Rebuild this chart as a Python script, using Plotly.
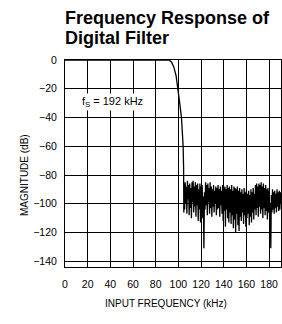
import plotly.graph_objects as go

# Passband + transition (kHz, dB)
pass_freq = [0, 20, 40, 60, 80, 90, 92, 94, 96, 98, 99.7, 101, 102.7, 104.2, 104.6, 104.8]
pass_mag = [0, 0, 0, 0, 0, 0, 0, -1.5, -5, -11, -20, -29, -40, -60, -75, -106]

# Stopband, sampled every 0.5 kHz starting at 105 kHz
stop_start = 105.0
stop_step = 0.5
stop_mag = [
    -86, -104, -85, -100, -88, -107, -84, -97, -87, -108,
    -86, -103, -89, -110, -85, -99, -84, -106, -88, -102,
    -85, -109, -87, -101, -86, -112, -90, -104, -86, -113,
    -88, -106, -87, -110, -95, -131, -92, -104, -85, -101,
    -87, -108, -86, -99, -89, -107, -85, -103, -88, -109,
    -90, -102, -87, -106, -91, -100, -88, -108, -89, -104,
    -87, -103, -90, -109, -88, -101, -91, -107, -87, -112,
    -89, -105, -88, -116, -90, -104, -87, -110, -89, -113,
    -88, -106, -90, -114, -87, -108, -91, -117, -88, -111,
    -89, -120, -90, -107, -88, -115, -91, -119, -89, -109,
    -92, -112, -90, -106, -93, -114, -89, -108, -92, -116,
    -90, -110, -93, -107, -91, -115, -94, -109, -90, -113,
    -92, -106, -89, -111, -93, -104, -87, -108, -86, -103,
    -88, -109, -86, -102, -87, -107, -85, -104, -88, -110,
    -86, -103, -89, -108, -87, -105, -90, -111, -89, -106,
    -91, -109, -100, -131, -94, -106, -90, -104, -92, -107,
    -91, -103, -93, -106, -90, -102, -92, -105, -91, -104,
    -92, -100,
]
stop_freq = [stop_start + stop_step * i for i in range(len(stop_mag))]

freq = pass_freq + stop_freq
mag = pass_mag + stop_mag

x_ticks = [0, 20, 40, 60, 80, 100, 120, 140, 160, 180]
y_ticks = [0, -20, -40, -60, -80, -100, -120, -140]
title_lines = ["Frequency Response of", "Digital Filter"]

FONT = "Liberation Sans, Arial, sans-serif"
W, H = 282, 324
ML, MR, MT, MB = 65, 1, 60, 57
PW, PH = W - ML - MR, H - MT - MB


def px_x(px):
    return (px - ML) / PW


def px_y(py):
    return (H - MB - py) / PH


fig = go.Figure()
fig.add_trace(go.Scatter(x=freq, y=mag, mode="lines",
                         line=dict(color="black", width=1.3),
                         showlegend=False, hoverinfo="skip"))

axis_common = dict(showline=True, linecolor="black", linewidth=1, mirror=True,
                   showgrid=True, gridcolor="black", gridwidth=1,
                   zeroline=False, ticks="",
                   tickfont=dict(family=FONT, size=10.5, color="black"))

fig.update_xaxes(range=[0, 190.5], tickmode="array", tickvals=x_ticks,
                 ticktext=[str(v) for v in x_ticks], ticklabelstandoff=7, **axis_common)
fig.update_yaxes(range=[-144, 0], tickmode="array", tickvals=y_ticks,
                 ticktext=[("\u2212" + str(-v)) if v < 0 else "0" for v in y_ticks],
                 ticklabelstandoff=5, **axis_common)

annotations = [
    dict(text="<b>" + title_lines[0] + "</b>", x=px_x(63), y=px_y(17.7),
         xref="paper", yref="paper", xanchor="left", yanchor="middle", showarrow=False,
         font=dict(family=FONT, size=18, color="black")),
    dict(text="<b>" + title_lines[1] + "</b>", x=px_x(63), y=px_y(37.9),
         xref="paper", yref="paper", xanchor="left", yanchor="middle", showarrow=False,
         font=dict(family=FONT, size=18, color="black")),
    dict(text="f<sub>S</sub> = 192 kHz", x=13.0, y=-29.5, xref="x", yref="y",
         xanchor="left", yanchor="middle", showarrow=False,
         font=dict(family=FONT, size=11, color="black"), bgcolor="white"),
    dict(text="MAGNITUDE (dB)", x=px_x(24), y=px_y(175),
         xref="paper", yref="paper", textangle=-90, showarrow=False,
         xanchor="center", yanchor="middle",
         font=dict(family=FONT, size=10, color="black")),
    dict(text="INPUT FREQUENCY (kHz)", x=px_x(166), y=px_y(303),
         xref="paper", yref="paper", showarrow=False,
         xanchor="center", yanchor="middle",
         font=dict(family=FONT, size=10, color="black")),
]

fig.update_layout(
    width=W, height=H,
    margin=dict(l=ML, r=MR, t=MT, b=MB),
    paper_bgcolor="white", plot_bgcolor="white",
    annotations=annotations,
)

fig.write_html("out.html", include_plotlyjs=True,
               config={"displayModeBar": False, "staticPlot": True},
               post_script="document.body.style.margin='0';document.body.style.overflow='hidden';")
